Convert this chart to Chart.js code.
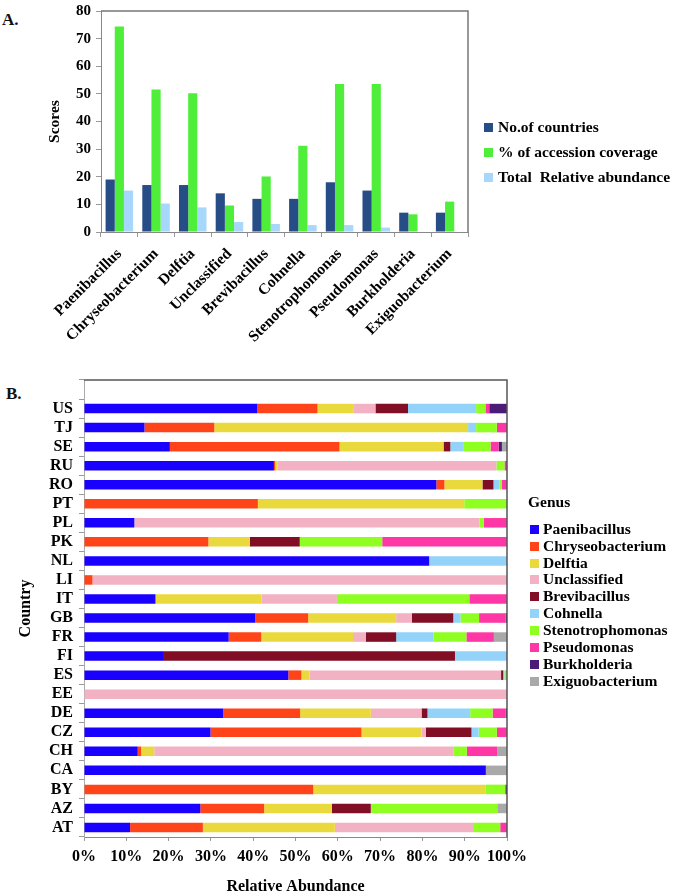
<!DOCTYPE html>
<html><head><meta charset="utf-8">
<script src="https://cdn.jsdelivr.net/npm/chart.js@4.4.0/dist/chart.umd.min.js"></script>
<style>
html,body{margin:0;padding:0;background:#fff;}
body{width:675px;height:893px;overflow:hidden;position:relative;font-family:"Liberation Serif",serif;}
canvas{position:absolute;left:0;}
.lab{position:absolute;font-weight:bold;font-size:17px;line-height:17px;color:#111;}
</style></head><body>
<div class="lab" style="left:2px;top:11px">A.</div>
<div class="lab" style="left:6px;top:385px">B.</div>
<canvas id="cA" width="675" height="345" style="top:0"></canvas>
<canvas id="cB" width="675" height="560" style="top:345px"></canvas>
<script>
// ---------- Panel A data ----------
const genera = ['Paenibacillus','Chryseobacterium','Delftia','Unclassified','Brevibacillus','Cohnella','Stenotrophomonas','Pseudomonas','Burkholderia','Exiguobacterium'];
const seriesNamesA = ['No.of countries','% of accession coverage','Total  Relative abundance'];
const countriesCount = [19,17,17,14,12,12,18,15,7,7];
const accessionCoverage = [74.4,51.6,50.2,9.6,20.1,31.2,53.6,53.6,6.4,11];
const totalAbundance = [15.0,10.3,8.9,3.6,2.9,2.5,2.5,1.6,0.2,0.2];
const yTicksA = [0,10,20,30,40,50,60,70,80];

// ---------- Panel B data ----------
const countries = ['US','TJ','SE','RU','RO','PT','PL','PK','NL','LI','IT','GB','FR','FI','ES','EE','DE','CZ','CH','CA','BY','AZ','AT'];
const genusNames = ['Paenibacillus','Chryseobacterium','Delftia','Unclassified','Brevibacillus','Cohnella','Stenotrophomonas','Pseudomonas','Burkholderia','Exiguobacterium'];
const paenibacillus    = [41.0,14.3,20.3,44.9,83.3,0,11.9,0,81.6,0,16.9,40.5,34.2,18.9,48.3,0,32.9,29.9,12.7,95.0,0,27.5,10.9];
const chryseobacterium = [14.2,16.5,40.1,0.3,1.9,41.1,0,29.4,0,2.0,0,12.5,7.7,0,3.1,0,18.2,35.7,0.8,0,54.2,15.1,17.2];
const delftia          = [8.6,60.0,24.6,0.5,9.0,48.8,0,9.8,0,0,25.1,20.8,21.7,0,1.9,0,16.7,14.2,3.1,0,40.8,16.0,31.2];
const unclassified     = [5.1,0,0,51.8,0,0,81.6,0,0,98.0,17.8,3.7,3.0,0,45.3,100,12.0,1.0,70.7,0,0,0,32.9];
const brevibacillus    = [7.7,0,1.6,0,2.6,0,0,11.8,0,0,0,9.8,7.2,68.8,0.5,0,1.4,10.8,0,0,0,9.2,0];
const cohnella         = [16.1,1.9,3.2,0,1.4,0,0,0,18.4,0,0,1.7,8.8,12.3,0.3,0,10.1,1.7,0,0,0,0,0];
const stenotrophomonas = [2.2,4.9,6.3,1.9,0.6,10.1,1.0,19.5,0,0,31.3,4.4,7.8,0,0.6,0,5.3,4.3,3.2,0,4.6,29.9,6.2];
const pseudomonas      = [0.9,2.4,1.9,0.6,1.2,0,5.5,29.5,0,0,8.9,6.3,6.5,0,0,0,3.1,2.4,7.2,0,0,0,1.6];
const burkholderia     = [4.2,0,0.8,0,0,0,0,0,0,0,0,0.3,0,0,0,0,0.3,0,0,0,0.4,0,0];
const exiguobacterium  = [0,0,1.2,0,0,0,0,0,0,0,0,0,3.1,0,0,0,0,0,2.3,5.0,0,2.3,0];
const xTickLabelsB = ['0%','10%','20%','30%','40%','50%','60%','70%','80%','90%','100%'];

const seriesB = [paenibacillus,chryseobacterium,delftia,unclassified,brevibacillus,cohnella,stenotrophomonas,pseudomonas,burkholderia,exiguobacterium];
const colorsA = ['#264D86','#4FEE3B','#A7D8FB'];
const colorsB = ['#1A00FF','#FF4419','#EAD93C','#F2B2C3','#820E26','#93D3FA','#8EFF20','#FF36A5','#4B1C77','#A9A9A9'];

Chart.defaults.font.family = "'Liberation Serif', 'Times New Roman', serif";
Chart.defaults.font.weight = 'bold';
Chart.defaults.color = '#000';

const framePlugin = {
  id: 'frame',
  afterDraw(chart, args, opts) {
    const {ctx, chartArea: a} = chart;
    ctx.save();
    ctx.lineWidth = opts.width || 1;
    ctx.strokeStyle = opts.color || '#666';
    ctx.beginPath();
    ctx.moveTo(a.left, a.top); ctx.lineTo(a.right, a.top); ctx.lineTo(a.right, a.bottom);
    ctx.stroke();
    ctx.restore();
  }
};

// legend drawn beside the plot from the chart's own datasets
const sideLegend = {
  id: 'sideLegend',
  afterDraw(chart, args, o) {
    const ctx = chart.ctx;
    ctx.save();
    ctx.textBaseline = 'middle';
    ctx.textAlign = 'left';
    ctx.font = "bold " + o.fontSize + "px 'Liberation Serif', serif";
    ctx.fillStyle = '#000';
    if (o.title) ctx.fillText(o.title, o.titleX, o.titleY);
    chart.data.datasets.forEach((ds, i) => {
      const cy = o.y + i * o.spacing;
      ctx.fillStyle = ds.backgroundColor;
      ctx.fillRect(o.x, Math.round(cy - o.box / 2), o.box, o.box);
      ctx.fillStyle = '#000';
      ctx.fillText(ds.label, o.x + o.box + o.gap, cy + 0.5);
    });
    ctx.restore();
  }
};

const boldFont = (s, lh) => lh ? {size: s, weight: 'bold', lineHeight: lh} : {size: s, weight: 'bold'};

new Chart(document.getElementById('cA'), {
  type: 'bar',
  data: {
    labels: genera,
    datasets: [
      {label: seriesNamesA[0], data: countriesCount, backgroundColor: colorsA[0]},
      {label: seriesNamesA[1], data: accessionCoverage, backgroundColor: colorsA[1]},
      {label: seriesNamesA[2], data: totalAbundance, backgroundColor: colorsA[2]}
    ]
  },
  options: {
    responsive: false, animation: false, devicePixelRatio: 1,
    layout: {padding: {left: 0, top: 6, right: 207, bottom: 0}},
    datasets: {bar: {categoryPercentage: 0.75, barPercentage: 1}},
    scales: {
      x: {
        grid: {drawOnChartArea: false, tickLength: 5, color: '#999'},
        border: {color: '#888', width: 1},
        ticks: {minRotation: 45, maxRotation: 45, autoSkip: false, padding: 8, font: boldFont(15.5), color: '#000'},
        afterFit(s) { s.height = 345 - 232; }
      },
      y: {
        min: 0, max: 80,
        afterBuildTicks(s) { s.ticks = yTicksA.map(v => ({value: v})); },
        ticks: {padding: 5, font: boldFont(15, 0.8), color: '#000'},
        grid: {drawOnChartArea: false, tickLength: 5, color: '#999'},
        border: {color: '#888', width: 1},
        title: {display: true, text: 'Scores', font: boldFont(15.5), color: '#000', padding: {top: 46, bottom: 0}},
        afterFit(s) { s.width = 101; }
      }
    },
    plugins: {
      legend: {display: false},
      tooltip: {enabled: false},
      frame: {color: '#777', width: 1.5},
      sideLegend: {x: 484, y: 127.3, spacing: 25.2, box: 9, gap: 5, fontSize: 15.5}
    }
  },
  plugins: [framePlugin, sideLegend]
});

new Chart(document.getElementById('cB'), {
  type: 'bar',
  data: {
    labels: [''].concat(countries),
    datasets: genusNames.map((g, i) => ({label: g, data: [null].concat(seriesB[i]), backgroundColor: colorsB[i]}))
  },
  options: {
    indexAxis: 'y',
    responsive: false, animation: false, devicePixelRatio: 1,
    layout: {padding: {left: 0, top: 35, right: 168, bottom: 0}},
    datasets: {bar: {categoryPercentage: 0.5, barPercentage: 1}},
    scales: {
      x: {
        stacked: true, min: 0, max: 100,
        afterBuildTicks(s) { s.ticks = xTickLabelsB.map((t, i) => ({value: i * 10})); },
        ticks: {callback: (v) => xTickLabelsB[Math.round(v / 10)], padding: 6, minRotation: 0, maxRotation: 0, autoSkip: false, font: boldFont(16), color: '#000'},
        grid: {drawOnChartArea: false, tickLength: 4, color: '#999'},
        border: {color: '#888', width: 1},
        title: {display: true, text: 'Relative Abundance', font: boldFont(16), color: '#000', padding: {top: 0, bottom: 9}},
        afterFit(s) { s.height = 560 - 492; }
      },
      y: {
        stacked: true,
        ticks: {padding: 6, font: boldFont(16), color: '#000', autoSkip: false},
        grid: {drawOnChartArea: false, tickLength: 5, color: '#999'},
        border: {color: '#aaa', width: 1},
        title: {display: true, text: 'Country', font: boldFont(16), color: '#000', padding: {top: 16, bottom: 0}},
        afterFit(s) { s.width = 84; }
      }
    },
    plugins: {
      legend: {display: false},
      tooltip: {enabled: false},
      frame: {color: '#555', width: 1.5},
      sideLegend: {title: 'Genus', titleX: 528, titleY: 158, x: 530, y: 184.3, spacing: 16.86, box: 9, gap: 4, fontSize: 15.5}
    }
  },
  plugins: [framePlugin, sideLegend]
});
</script>
</body></html>
